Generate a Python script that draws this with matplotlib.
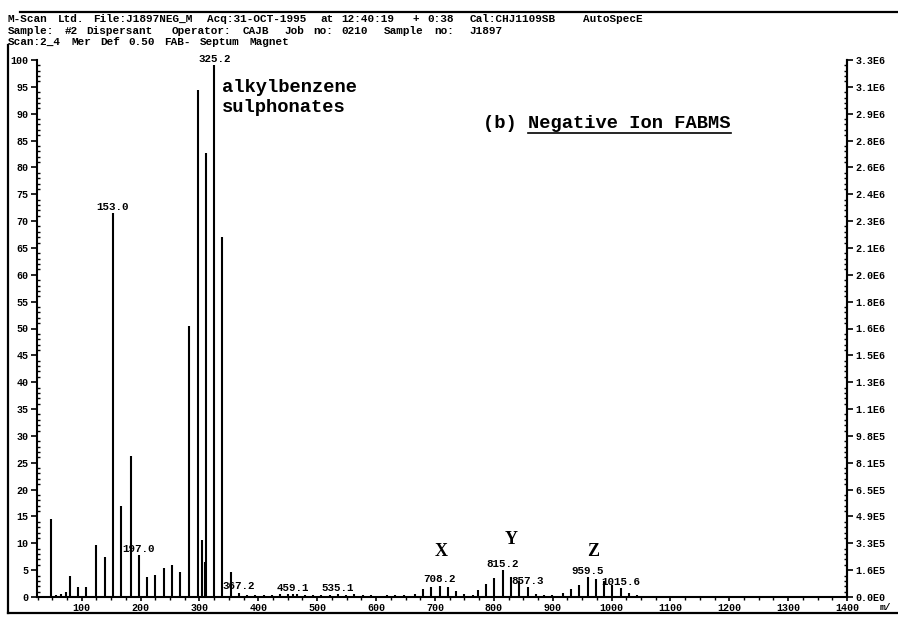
import re
import matplotlib
matplotlib.use("Agg")
import matplotlib.pyplot as plt
from matplotlib.lines import Line2D
from matplotlib.ticker import MultipleLocator, FixedLocator

W, H = 898, 620
MONO = "Liberation Mono"

# ---- spectrum: m/z and relative intensity (%) ----
mz = [48, 57, 64, 73, 80, 94, 108, 125, 139, 153.0, 167, 183, 197.0, 211, 225,
      239, 253, 267, 283, 297, 305, 309, 311, 325.2, 339, 353, 367.2, 381, 395,
      409, 423, 437, 451, 459.1, 465, 479, 493, 507, 521, 535.1, 549, 563, 577,
      591, 605, 619, 633, 647, 666, 680, 694, 708.2, 722, 736, 750, 764, 773,
      787, 801, 815.2, 829, 843, 857.3, 871, 885, 899, 917, 931, 945, 959.5,
      973, 987, 1001, 1015.6, 1029, 1043]
rel_int = [14.5, 0.3, 0.6, 0.9, 4.0, 1.8, 1.8, 9.6, 7.4, 71.5, 17.0, 26.2, 7.8,
           3.8, 4.1, 5.4, 5.9, 4.7, 50.4, 94.4, 10.6, 6.6, 82.7, 99.0, 67.0,
           4.6, 0.8, 0.4, 0.3, 0.3, 0.4, 0.5, 0.6, 0.5, 0.5, 0.4, 0.3, 0.4,
           0.4, 0.5, 0.4, 0.5, 0.3, 0.3, 0.2, 0.3, 0.3, 0.4, 0.6, 1.4, 1.9,
           2.1, 1.9, 1.2, 0.5, 0.4, 1.3, 2.4, 3.6, 5.0, 3.8, 2.9, 1.8, 0.5,
           0.3, 0.4, 0.8, 1.5, 2.2, 3.7, 3.3, 3.0, 2.2, 1.6, 0.8, 0.3]

labelled_mz = [153.0, 197.0, 325.2, 367.2, 459.1, 535.1, 708.2, 815.2, 857.3,
               959.5, 1015.6]

# ---- axis ticks ----
x_ticks = list(range(100, 1401, 100))
left_ticks = list(range(0, 101, 5))
right_tick_labels = ["0.0E0", "1.6E5", "3.3E5", "4.9E5", "6.5E5", "8.1E5",
                     "9.8E5", "1.1E6", "1.3E6", "1.5E6", "1.6E6", "1.8E6",
                     "2.0E6", "2.1E6", "2.3E6", "2.4E6", "2.6E6", "2.8E6",
                     "2.9E6", "3.1E6", "3.3E6"]

# ---- acquisition header ----
header_lines = [
    "M-Scan Ltd. File:J1897NEG_M Acq:31-OCT-1995 at 12:40:19  + 0:38  Cal:CHJ1109SB   AutoSpecE",
    "Sample: #2 Dispersant  Operator: CAJB  Job no: 0210  Sample no:  J1897",
    "Scan:2_4 Mer Def 0.50 FAB- Septum Magnet",
]

group_labels = ["X", "Y", "Z"]
group_pos = [(441, 551), (511, 539), (593, 551)]


def fx(px):
    return px / W


def fy(py):
    return 1 - py / H


fig = plt.figure(figsize=(W / 100, H / 100), dpi=100)
fig.patch.set_facecolor("white")

ax = fig.add_axes([fx(37), fy(597), (847 - 37) / W, (597 - 60) / H])
ax.set_xlim(24, 1400)
ax.set_ylim(0, 100)

ax.vlines(mz, 0, rel_int, color="black", linewidth=1.5)

for m in labelled_mz:
    h = rel_int[mz.index(m)]
    ax.annotate(f"{m:.1f}", xy=(m, h), xytext=(0, 4.6), textcoords="offset points",
                ha="center", va="center", fontsize=7.8, family=MONO,
                fontweight="bold")

ax.spines["top"].set_visible(False)
for s in ("left", "bottom", "right"):
    ax.spines[s].set_linewidth(1.5)

ax.xaxis.set_major_locator(FixedLocator(x_ticks))
ax.xaxis.set_minor_locator(MultipleLocator(25))
ax.set_xticklabels([str(t) for t in x_ticks])
ax.yaxis.set_major_locator(FixedLocator(left_ticks))
ax.yaxis.set_minor_locator(MultipleLocator(1))
ax.set_yticklabels([str(t) for t in left_ticks])

ax.tick_params(axis="x", which="major", direction="out", length=3, width=1.2,
               pad=1, labelsize=7.2)
ax.tick_params(axis="x", which="minor", direction="out", length=2, width=1.0)
ax.tick_params(axis="y", which="major", direction="out", length=4, width=1.2,
               pad=2, labelsize=7.2)
ax.tick_params(axis="y", which="minor", direction="in", length=2, width=1.0)

ax2 = ax.twinx()
ax2.set_ylim(0, 100)
for s in ("top", "left", "bottom"):
    ax2.spines[s].set_visible(False)
ax2.spines["right"].set_linewidth(1.5)
ax2.yaxis.set_major_locator(FixedLocator(left_ticks))
ax2.yaxis.set_minor_locator(MultipleLocator(1))
ax2.set_yticklabels(right_tick_labels)
ax2.tick_params(axis="y", which="major", direction="out", length=4, width=1.2,
                pad=2, labelsize=7.2)
ax2.tick_params(axis="y", which="minor", direction="in", length=2, width=1.0)

for a in (ax, ax2):
    for lab in a.get_xticklabels() + a.get_yticklabels():
        lab.set_family(MONO)
        lab.set_fontweight("bold")

# axis unit at the far right
fig.text(fx(880), fy(607), "m/", family=MONO, fontweight="bold", fontsize=6.8,
         ha="left", va="center")

# header: words laid out on a fixed character grid
COL = 7.1
for line, ypx in zip(header_lines, (19, 30.5, 42)):
    for mt in re.finditer(r"\S+", line):
        fig.text(fx(8 + mt.start() * COL), fy(ypx), mt.group(), family=MONO,
                 fontweight="bold", fontsize=7.9, ha="left", va="center")

# annotations
fig.text(fx(222), fy(87), "alkylbenzene", family=MONO, fontweight="bold",
         fontsize=13.5, ha="left", va="center")
fig.text(fx(222), fy(108), "sulphonates", family=MONO, fontweight="bold",
         fontsize=13.5, ha="left", va="center")
t_b = fig.text(fx(483), fy(123), "(b) ", family=MONO, fontweight="bold",
               fontsize=13.5, ha="left", va="center")
fig.canvas.draw()
r = fig.canvas.get_renderer()
bb = t_b.get_window_extent(r)
t_title = fig.text(bb.x1 / W, fy(123), "Negative Ion FABMS", family=MONO,
                   fontweight="bold", fontsize=13.5, ha="left", va="center")
bb2 = t_title.get_window_extent(r)
fig.add_artist(Line2D([bb2.x0 / W, bb2.x1 / W], [fy(133), fy(133)],
                      color="black", linewidth=1.2, transform=fig.transFigure))

for lab, (xpx, ypx) in zip(group_labels, group_pos):
    fig.text(fx(xpx), fy(ypx), lab, family="Liberation Serif", fontweight="bold",
             fontsize=13, ha="center", va="center")

# page frame
frame = [((20, 12), (898, 12)), ((8, 45), (8, 613)), ((8, 613), (898, 613))]
for (x0, y0), (x1, y1) in frame:
    fig.add_artist(Line2D([fx(x0), fx(x1)], [fy(y0), fy(y1)], color="black",
                          linewidth=1.6, transform=fig.transFigure))

fig.savefig("out.png", dpi=100, facecolor="white")
